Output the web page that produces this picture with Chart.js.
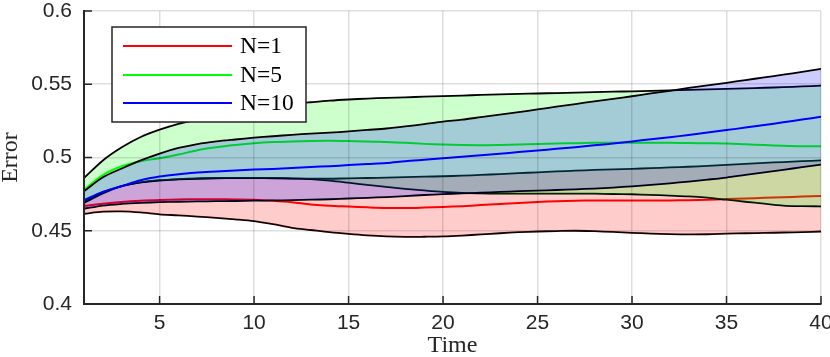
<!DOCTYPE html>
<html><head><meta charset="utf-8">
<script src="https://cdn.jsdelivr.net/npm/chart.js@4.4.1/dist/chart.umd.min.js"></script>
<style>html,body{margin:0;padding:0;background:#fff;overflow:hidden}#wrap{width:830px;height:357px}</style>
</head><body><div id="wrap"><canvas id="c" width="830" height="357"></canvas></div>
<script>
const time = [1,2,3,4,5,6,7,8,9,10,11,12,13,14,15,16,17,18,19,20,21,22,23,24,25,26,27,28,29,30,31,32,33,34,35,36,37,38,39,40];
const seriesNames = ["N=1","N=5","N=10"];
const redMean  = [0.467,0.4685,0.4697,0.4705,0.471,0.4713,0.4715,0.4715,0.4714,0.4712,0.4705,0.4695,0.468,0.467,0.4665,0.466,0.4656,0.4655,0.4658,0.4662,0.4668,0.4675,0.4683,0.469,0.4697,0.4702,0.4705,0.4706,0.4706,0.4706,0.4706,0.4707,0.4709,0.4712,0.4716,0.472,0.4725,0.4729,0.4733,0.4737];
const redLower = [0.4616,0.463,0.4632,0.4625,0.4612,0.4605,0.4597,0.4588,0.4578,0.4566,0.4545,0.452,0.4505,0.449,0.4478,0.4468,0.4461,0.4458,0.4459,0.4461,0.4467,0.4475,0.4483,0.449,0.4495,0.4498,0.45,0.4497,0.4492,0.4486,0.4481,0.4477,0.4475,0.4476,0.448,0.4483,0.4485,0.4488,0.4491,0.4495];
const redUpper = [0.469,0.4755,0.4805,0.483,0.4845,0.4853,0.4858,0.486,0.486,0.486,0.4858,0.4856,0.4855,0.4855,0.4858,0.486,0.4863,0.4866,0.4869,0.4872,0.4876,0.4881,0.4887,0.4893,0.4899,0.4905,0.491,0.4915,0.4919,0.4923,0.4927,0.4932,0.4937,0.4943,0.4949,0.4956,0.4963,0.4969,0.4975,0.498];
const greenMean  = [0.478,0.488,0.494,0.4975,0.4995,0.502,0.505,0.507,0.5085,0.5097,0.5105,0.511,0.5113,0.5114,0.5112,0.511,0.5105,0.51,0.5093,0.5088,0.5085,0.5084,0.5086,0.5089,0.5092,0.5095,0.5098,0.51,0.51,0.51,0.51,0.51,0.5099,0.5097,0.5095,0.509,0.5085,0.508,0.5077,0.5077];
const greenLower = [0.470,0.4765,0.4805,0.483,0.4843,0.485,0.4855,0.4858,0.486,0.486,0.486,0.4858,0.4852,0.4842,0.4828,0.4813,0.4799,0.4786,0.4775,0.4765,0.4758,0.4755,0.4753,0.4753,0.4753,0.4753,0.4753,0.4753,0.4751,0.4749,0.4745,0.474,0.4735,0.4726,0.4712,0.4698,0.4685,0.4672,0.4668,0.4667];
const greenUpper = [0.486,0.498,0.507,0.514,0.519,0.523,0.526,0.529,0.531,0.533,0.535,0.5365,0.5377,0.5388,0.5396,0.5402,0.5407,0.5411,0.5415,0.5419,0.5423,0.5427,0.5431,0.5434,0.5437,0.544,0.5443,0.5446,0.5449,0.5452,0.5455,0.5458,0.5461,0.5465,0.5468,0.5472,0.5476,0.548,0.5485,0.549];
const blueMean  = [0.471,0.4765,0.4805,0.4845,0.487,0.4885,0.4898,0.4905,0.4912,0.4918,0.4922,0.4928,0.4935,0.4941,0.4948,0.4955,0.4962,0.4975,0.4985,0.4995,0.5005,0.5015,0.5026,0.5037,0.5048,0.5059,0.507,0.5083,0.5096,0.511,0.5124,0.5138,0.5154,0.517,0.5187,0.5204,0.5222,0.524,0.5259,0.5278];
const blueLower = [0.465,0.4672,0.4683,0.469,0.4695,0.4698,0.47,0.4702,0.4703,0.4705,0.4707,0.4709,0.4712,0.4715,0.472,0.4725,0.473,0.4737,0.4744,0.475,0.4755,0.476,0.4765,0.477,0.4774,0.4778,0.4783,0.4788,0.4795,0.4803,0.4813,0.4824,0.4836,0.4849,0.4863,0.4881,0.4898,0.4916,0.4934,0.4952];
const blueUpper = [0.477,0.4865,0.4925,0.498,0.5027,0.5065,0.5092,0.511,0.5123,0.5135,0.5145,0.5155,0.5163,0.517,0.5178,0.5188,0.5198,0.5212,0.5228,0.5245,0.5258,0.5275,0.5292,0.531,0.5328,0.5347,0.5365,0.5383,0.54,0.5418,0.5437,0.5455,0.5475,0.5493,0.551,0.5528,0.5547,0.5565,0.5585,0.5605];
const xTicks = [5,10,15,20,25,30,35,40];
const yTicks = [0.4,0.45,0.5,0.55,0.6];
const yTickLabels = ["0.4","0.45","0.5","0.55","0.6"];

const pts = arr => arr.map((v,i)=>({x: time[i], y: v}));
const groups = [
  {name: seriesNames[0], lower: redLower, upper: redUpper, mean: redMean, line: '#ff0000', fill: 'rgba(255,0,0,0.2)'},
  {name: seriesNames[1], lower: greenLower, upper: greenUpper, mean: greenMean, line: '#00ff00', fill: 'rgba(0,255,0,0.2)'},
  {name: seriesNames[2], lower: blueLower, upper: blueUpper, mean: blueMean, line: '#0000ff', fill: 'rgba(0,0,255,0.2)'}
];
const datasets = [];
let ord = 100;
groups.forEach(g => {
  const li = datasets.length;
  datasets.push({label: g.name+' lower', data: pts(g.lower), borderColor: '#000', borderWidth: 1.8, pointRadius: 0, fill: false, tension: 0.3, order: ord--});
  datasets.push({label: g.name+' upper', data: pts(g.upper), borderColor: '#000', borderWidth: 1.8, pointRadius: 0, fill: {target: li}, backgroundColor: g.fill, tension: 0.3, order: ord--});
  datasets.push({label: g.name, data: pts(g.mean), borderColor: g.line, borderWidth: 2, pointRadius: 0, fill: false, tension: 0.3, order: ord--});
});

const innerTicks = {
  id: 'innerTicks',
  afterDraw(chart) {
    const {ctx, chartArea: a, scales: {x, y}} = chart;
    ctx.save();
    ctx.strokeStyle = '#262626'; ctx.lineWidth = 1.5;
    ctx.beginPath();
    xTicks.forEach(v => { const px = x.getPixelForValue(v); ctx.moveTo(px, a.bottom); ctx.lineTo(px, a.bottom - 8); });
    yTicks.forEach(v => { const py = y.getPixelForValue(v); ctx.moveTo(a.left, py); ctx.lineTo(a.left + 8, py); });
    ctx.stroke();
    // legend box
    const x0 = a.left + 28, y0 = a.top + 16, w = 194, h = 95;
    ctx.fillStyle = '#fff'; ctx.fillRect(x0, y0, w, h);
    ctx.strokeStyle = '#262626'; ctx.lineWidth = 1.5; ctx.strokeRect(x0, y0, w, h);
    const rows = [19, 48, 76];
    groups.forEach((g, i) => {
      const yy = y0 + rows[i];
      ctx.strokeStyle = g.line; ctx.lineWidth = 2;
      ctx.beginPath(); ctx.moveTo(x0 + 11, yy); ctx.lineTo(x0 + 120, yy); ctx.stroke();
      ctx.fillStyle = '#000'; ctx.font = '23.5px "Liberation Serif"'; ctx.textBaseline = 'middle'; ctx.textAlign = 'left';
      ctx.fillText(g.name, x0 + 128, yy + 1);
    });
    ctx.restore();
  }
};

new Chart(document.getElementById('c'), {
  type: 'line',
  data: {datasets},
  plugins: [innerTicks],
  options: {
    responsive: false, animation: false, devicePixelRatio: 1,
    layout: {padding: {top: 11, right: 9, left: 0, bottom: 0}},
    plugins: {legend: {display: false}, tooltip: {enabled: false}, filler: {drawTime: 'beforeDatasetDraw'}},
    scales: {
      x: {
        type: 'linear', min: 1, max: 40,
        afterBuildTicks: s => { s.ticks = xTicks.map(v => ({value: v})); },
        afterFit: s => { s.height = 53; s.paddingLeft = 0; s.paddingRight = 0; },
        ticks: {color: '#262626', font: {family: '"Liberation Sans", Arial, sans-serif', size: 21, lineHeight: 1}, padding: 9, maxRotation: 0, autoSkip: false, callback: v => String(v)},
        grid: {color: 'rgba(0,0,0,0.13)', lineWidth: 1.5, drawTicks: false, z: 1},
        border: {color: '#262626', width: 2, z: 2},
        title: {display: true, text: 'Time', color: '#262626', font: {family: '"Liberation Serif", serif', size: 24, lineHeight: 1}, padding: {top: 0, bottom: -1}}
      },
      y: {
        type: 'linear', min: 0.4, max: 0.6,
        afterBuildTicks: s => { s.ticks = yTicks.map(v => ({value: v})); },
        afterFit: s => { s.width = 84; s.paddingTop = 0; s.paddingBottom = 0; },
        ticks: {color: '#262626', font: {family: '"Liberation Sans", Arial, sans-serif', size: 21, lineHeight: 1}, padding: 12, callback: (v, i) => yTickLabels[i]},
        grid: {color: 'rgba(0,0,0,0.13)', lineWidth: 1.5, drawTicks: false, z: 1},
        border: {color: '#262626', width: 2, z: 2},
        title: {display: true, text: 'Error', color: '#262626', font: {family: '"Liberation Serif", serif', size: 24, lineHeight: 1}, padding: {top: -1, bottom: 0}}
      }
    }
  }
});
</script></body></html>
